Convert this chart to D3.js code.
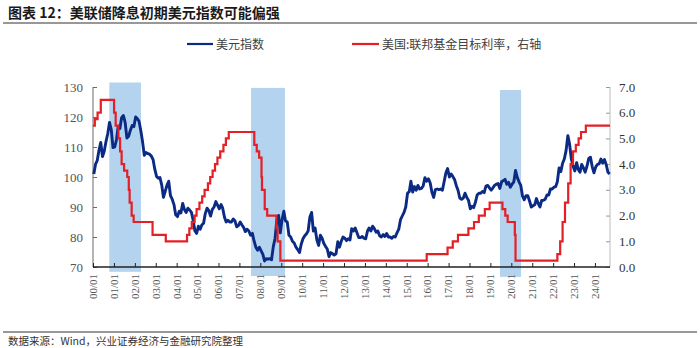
<!DOCTYPE html>
<html><head><meta charset="utf-8">
<script src="https://cdn.jsdelivr.net/npm/d3@7"></script>
<style>
body{margin:0;background:#fff;}
svg{display:block;}
</style></head>
<body>
<svg id="chart" width="700" height="348"></svg>
<script>
// ---- data ----
const title = "图表 12：美联储降息初期美元指数可能偏强";
const source = "数据来源：Wind，兴业证券经济与金融研究院整理";
const seriesNames = ["美元指数", "美国:联邦基金目标利率，右轴"];
const xTickLabels = ["00/01","01/01","02/01","03/01","04/01","05/01","06/01","07/01","08/01","09/01","10/01","11/01","12/01","13/01","14/01","15/01","16/01","17/01","18/01","19/01","20/01","21/01","22/01","23/01","24/01"];
const leftTicks = [70, 80, 90, 100, 110, 120, 130];
const rightTicks = [0, 1, 2, 3, 4, 5, 6, 7];
const xDomain = ["2000-01-01", "2024-09-20"];
// shaded easing-start periods [start, end, top, bottom] (left-axis units)
const shadeStart = ["2000-10-12", "2007-07-22", "2019-06-18"];
const shadeEnd   = ["2002-04-18", "2009-03-07", "2020-06-20"];
const shadeTop   = [131.5, 129.7, 129.0];
const shadeBottom= [68.4, 67.0, 66.7];
// US dollar index, monthly from 2000-01
const dxyStart = "2000-01-15";
const dxy = [
 101.0,104.3,105.5,109.0,111.5,106.8,108.6,111.8,114.5,118.2,115.8,109.8,
 110.0,112.5,116.8,116.2,119.8,120.5,118.2,113.0,113.6,115.6,117.2,116.8,
 120.0,119.4,118.6,115.4,111.8,107.2,108.2,107.8,107.6,107.0,105.8,102.6,
 100.2,99.6,99.8,97.4,93.2,95.2,97.2,98.6,93.8,92.6,90.8,87.4,
 86.8,88.6,88.0,91.2,89.2,88.2,89.6,89.0,88.2,85.6,82.0,81.2,
 83.6,82.6,84.0,84.6,87.8,89.6,88.8,87.0,89.2,90.0,91.8,90.6,
 89.4,90.8,89.6,86.6,85.0,85.6,85.0,85.0,86.0,85.4,83.4,83.8,
 85.0,84.0,83.2,81.8,82.6,82.0,80.6,81.2,78.6,76.6,75.6,76.6,
 75.4,74.2,72.0,72.8,72.6,72.8,72.4,76.8,79.6,85.6,87.2,81.4,
 85.8,88.6,85.4,85.0,80.6,80.0,78.6,78.0,76.6,75.8,74.8,77.6,
 79.4,80.4,81.0,82.0,86.6,88.2,82.0,83.0,79.0,77.2,80.6,79.6,
 77.8,76.8,76.0,73.4,74.8,74.4,74.0,74.4,78.4,76.6,78.6,80.0,
 79.6,78.8,79.4,79.0,82.8,82.0,83.0,81.4,79.8,79.8,80.2,79.6,
 79.4,82.0,83.0,82.0,83.6,82.8,81.6,82.0,80.4,80.0,80.8,80.2,
 81.2,80.0,80.0,79.6,80.2,80.0,81.4,82.6,85.8,87.0,88.2,90.0,
 94.6,95.2,98.6,95.0,96.8,95.6,97.2,96.0,96.2,97.0,99.8,98.6,
 99.4,98.0,95.0,93.2,95.8,96.0,95.8,96.0,95.6,98.4,101.4,102.8,
 100.0,101.0,100.2,99.2,97.2,95.6,93.0,92.6,93.0,94.6,93.2,92.2,
 89.4,90.2,89.8,91.6,94.0,94.6,94.6,95.2,94.8,97.0,97.2,96.4,
 95.6,96.4,97.2,97.6,97.8,96.2,98.4,98.8,99.2,97.6,98.2,96.6,
 97.6,98.4,102.2,99.8,98.4,97.2,93.6,92.4,93.8,93.8,92.0,90.0,
 90.4,90.8,92.8,91.2,90.0,92.2,92.2,92.6,94.0,94.0,96.0,96.0,
 96.6,96.8,98.4,103.0,101.8,104.6,106.0,108.8,113.8,111.0,106.0,103.6,
 102.0,104.8,102.6,101.6,104.2,103.0,101.6,103.6,106.2,106.6,103.4,101.4,
 103.4,104.2,104.4,106.0,104.6,105.8,104.2,101.6,101.0
];
// Fed funds target rate (upper bound), step changes
const fedDates = ["2000-01-01","2000-02-02","2000-03-21","2000-05-16","2001-01-03","2001-01-31","2001-03-20","2001-04-18","2001-05-15","2001-06-27","2001-08-21","2001-09-17","2001-10-02","2001-11-06","2001-12-11","2002-11-06","2003-06-25","2004-06-30","2004-08-10","2004-09-21","2004-11-10","2004-12-14","2005-02-02","2005-03-22","2005-05-03","2005-06-30","2005-08-09","2005-09-20","2005-11-01","2005-12-13","2006-01-31","2006-03-28","2006-05-10","2006-06-29","2007-09-18","2007-10-31","2007-12-11","2008-01-22","2008-01-30","2008-03-18","2008-04-30","2008-10-08","2008-10-29","2008-12-16","2015-12-16","2016-12-14","2017-03-15","2017-06-14","2017-12-13","2018-03-21","2018-06-13","2018-09-26","2018-12-19","2019-07-31","2019-09-18","2019-10-30","2020-03-03","2020-03-15","2022-03-16","2022-05-04","2022-06-15","2022-07-27","2022-09-21","2022-11-02","2022-12-14","2023-02-01","2023-03-22","2023-05-03","2023-07-26","2024-09-20"];
const fedRates = [5.50,5.75,6.00,6.50,6.00,5.50,5.00,4.50,4.00,3.75,3.50,3.00,2.50,2.00,1.75,1.25,1.00,1.25,1.50,1.75,2.00,2.25,2.50,2.75,3.00,3.25,3.50,3.75,4.00,4.25,4.50,4.75,5.00,5.25,4.75,4.50,4.25,3.50,3.00,2.25,2.00,1.50,1.00,0.25,0.50,0.75,1.00,1.25,1.50,1.75,2.00,2.25,2.50,2.25,2.00,1.75,1.25,0.25,0.50,1.00,1.75,2.50,3.25,4.00,4.50,4.75,5.00,5.25,5.50,5.50];
const colors = {dxy:"#0b2a83", fed:"#e41f26", shade:"#b3d3ee"};

// ---- drawing ----
const svg = d3.select("#chart");
const parse = d3.timeParse("%Y-%m-%d");
const plot = {left:93, right:610, top:87, bottom:267};
const x = d3.scaleTime().domain(xDomain.map(parse)).range([plot.left, plot.right]);
const yL = d3.scaleLinear().domain([70,130]).range([plot.bottom, plot.top]);
const yR = d3.scaleLinear().domain([0,7]).range([plot.bottom, plot.top]);
const serif = "'Liberation Serif','Times New Roman',serif";
const cjk = "'Noto Sans CJK SC','Noto Sans',sans-serif";

// title & source
svg.append("text").attr("x",8).attr("y",18).attr("font-family",cjk).attr("font-weight","bold")
  .attr("font-size",14).attr("fill","#1a1a1a").text(title);
svg.append("line").attr("x1",3).attr("x2",697).attr("y1",23).attr("y2",23).attr("stroke","#333").attr("stroke-width",1.2);
svg.append("line").attr("x1",3).attr("x2",697).attr("y1",332).attr("y2",332).attr("stroke","#333").attr("stroke-width",1.2);
svg.append("text").attr("x",8).attr("y",345).attr("font-family",cjk).attr("font-size",10.5).attr("fill","#333").text(source);

// shading
const shades = shadeStart.map((s,i)=>({s:parse(s), e:parse(shadeEnd[i]), t:shadeTop[i], b:shadeBottom[i]}));
svg.append("g").selectAll("rect").data(shades).join("rect")
  .attr("x",d=>x(d.s)).attr("width",d=>x(d.e)-x(d.s))
  .attr("y",d=>yL(d.t)).attr("height",d=>yL(d.b)-yL(d.t))
  .attr("fill",colors.shade);

// axes
const gL = svg.append("g").attr("transform",`translate(${plot.left},0)`)
  .call(d3.axisRight(yL).tickValues(leftTicks).tickSize(4).tickFormat(""));
gL.select(".domain").attr("stroke","#6a6a6a").attr("d",`M0,${plot.top}V${plot.bottom}`);
gL.selectAll(".tick line").attr("stroke","#6a6a6a");
svg.append("g").selectAll("text").data(leftTicks).join("text")
  .attr("x",plot.left-10).attr("y",d=>yL(d)).attr("dy","0.35em").attr("text-anchor","end")
  .attr("font-family",serif).attr("font-size",13).attr("fill","#555").text(d=>d);

const gR = svg.append("g").attr("transform",`translate(${plot.right},0)`)
  .call(d3.axisLeft(yR).tickValues(rightTicks).tickSize(4).tickFormat(""));
gR.select(".domain").attr("stroke","#bdbdbd").attr("d",`M0,${plot.top}V${plot.bottom}`);
gR.selectAll(".tick line").attr("stroke","#9a9a9a");
svg.append("g").selectAll("text").data(rightTicks).join("text")
  .attr("x",plot.right+9).attr("y",d=>yR(d)).attr("dy","0.35em").attr("text-anchor","start")
  .attr("font-family",serif).attr("font-size",13).attr("fill","#333").text(d=>d.toFixed(1));

// lines
const dxyData = dxy.map((v,i)=>({d:d3.timeMonth.offset(parse(dxyStart),i), v}));
svg.append("path").datum(dxyData).attr("fill","none").attr("stroke",colors.dxy)
  .attr("stroke-width",2.9).attr("stroke-linejoin","round")
  .attr("d",d3.line().x(d=>x(d.d)).y(d=>yL(d.v)));
const fedData = fedDates.map((d,i)=>({d:parse(d), v:fedRates[i]}));
svg.append("path").datum(fedData).attr("fill","none").attr("stroke",colors.fed)
  .attr("stroke-width",2.2)
  .attr("d",d3.line().curve(d3.curveStepAfter).x(d=>x(d.d)).y(d=>yR(d.v)));

// x axis
const tickDates = xTickLabels.map(l=>parse("20"+l.slice(0,2)+"-01-01"));
const gX = svg.append("g").attr("transform",`translate(0,${plot.bottom})`)
  .call(d3.axisTop(x).tickValues(tickDates).tickSize(4).tickFormat(""));
gX.select(".domain").attr("stroke","#222").attr("stroke-width",1.3).attr("d",`M${plot.left},0H${plot.right}`);
gX.selectAll(".tick line").attr("stroke","#222");
svg.append("g").selectAll("text").data(tickDates).join("text")
  .attr("transform",d=>`translate(${x(d)},${plot.bottom+7}) rotate(-90)`)
  .attr("dy","0.35em").attr("text-anchor","end")
  .attr("font-family",serif).attr("font-size",11).attr("fill","#555")
  .text((d,i)=>xTickLabels[i]);

// legend
const leg = [{x1:187,x2:213,c:colors.dxy,tx:216,t:seriesNames[0]},{x1:352,x2:379,c:colors.fed,tx:382,t:seriesNames[1]}];
const gLeg = svg.append("g");
leg.forEach(l=>{
  gLeg.append("line").attr("x1",l.x1).attr("x2",l.x2).attr("y1",44).attr("y2",44).attr("stroke",l.c).attr("stroke-width",2.2);
  gLeg.append("text").attr("x",l.tx).attr("y",48.5).attr("font-family",cjk).attr("font-size",12).attr("fill","#404040").text(l.t);
});
</script>
</body></html>
